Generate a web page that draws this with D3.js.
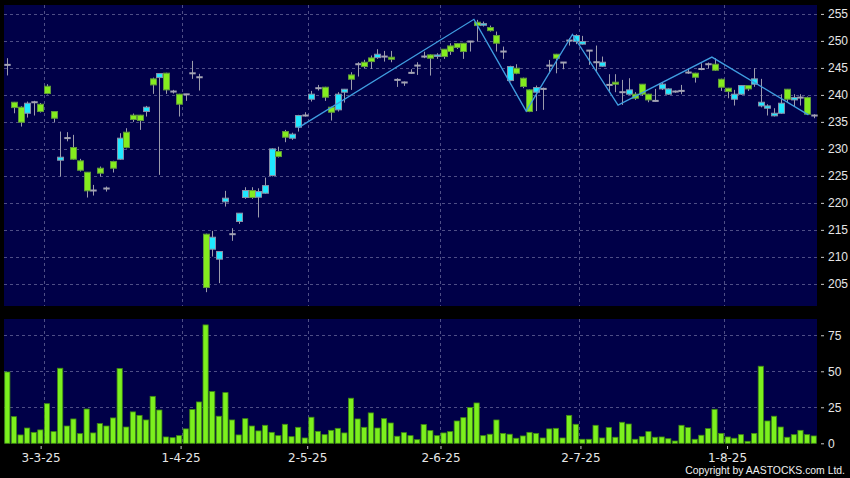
<!DOCTYPE html>
<html><head><meta charset="utf-8">
<script src="https://cdn.jsdelivr.net/npm/d3@7"></script>
<style>html,body{margin:0;padding:0;background:#000;} svg{display:block}</style>
</head><body>
<svg id="c" width="850" height="478"></svg>
<script>
const dates = [
"21-2-25","24-2-25","25-2-25","26-2-25","27-2-25","28-2-25",
"3-3-25","4-3-25","5-3-25","6-3-25","7-3-25","10-3-25","11-3-25","12-3-25","13-3-25","14-3-25","17-3-25","18-3-25","19-3-25","20-3-25","21-3-25","24-3-25","25-3-25","26-3-25","27-3-25","28-3-25","31-3-25",
"1-4-25","2-4-25","3-4-25","7-4-25","8-4-25","9-4-25","10-4-25","11-4-25","14-4-25","15-4-25","16-4-25","17-4-25","22-4-25","23-4-25","24-4-25","25-4-25","28-4-25","29-4-25","30-4-25",
"2-5-25","6-5-25","7-5-25","8-5-25","9-5-25","12-5-25","13-5-25","14-5-25","15-5-25","16-5-25","19-5-25","20-5-25","21-5-25","22-5-25","23-5-25","26-5-25","27-5-25","28-5-25","29-5-25","30-5-25",
"2-6-25","3-6-25","4-6-25","5-6-25","6-6-25","9-6-25","10-6-25","11-6-25","12-6-25","13-6-25","16-6-25","17-6-25","18-6-25","19-6-25","20-6-25","23-6-25","24-6-25","25-6-25","26-6-25","27-6-25","30-6-25",
"2-7-25","3-7-25","4-7-25","7-7-25","8-7-25","9-7-25","10-7-25","11-7-25","14-7-25","15-7-25","16-7-25","17-7-25","18-7-25","21-7-25","22-7-25","23-7-25","24-7-25","25-7-25","28-7-25","29-7-25","30-7-25","31-7-25",
"1-8-25","4-8-25","5-8-25","6-8-25","7-8-25","8-8-25","11-8-25","12-8-25","13-8-25","14-8-25","15-8-25","18-8-25","19-8-25","20-8-25"];

const open = [245.56,238.64,237.72,236.6,238.64,238.27,241.6,236.92,227.9,232.0,
230.25,227.78,225.68,222.29,226.42,222.66,227.66,228.09,233.09,236.24,
236.24,236.92,242.97,243.21,244.02,240.62,240.13,240.1,244.0,243.27,
214.2,211.42,209.57,220.19,214.2,216.55,221.0,222.29,221.05,221.79,
225.06,229.5,233.21,231.98,234.02,236.18,239.2,241.24,241.42,237.72,
237.23,240.5,243.7,245.68,246.05,246.85,246.9,247.1,246.98,242.78,
242.3,244.08,245.43,247.1,247.41,247.22,248.46,249.07,249.5,249.57,
249.88,253.46,252.9,252.47,250.99,248.03,242.66,244.94,243.09,240.93,
240.5,241.11,245.43,247.53,245.99,250.06,249.88,249.4,248.2,246.05,
245.31,241.85,242.35,240.5,240.13,240.13,241.98,240.13,238.89,241.11,
240.13,240.62,240.74,244.14,244.02,244.8,245.68,245.68,242.9,241.24,
239.2,240.13,241.73,241.98,237.96,237.53,236.12,236.6,241.05,239.07,
239.5,239.5,236.18];
const high = [246.8,238.7,237.9,238.77,238.9,238.5,241.98,237.0,233.21,233.1,
232.6,228.15,225.7,223.33,226.73,223.03,227.8,232.9,233.83,236.55,
236.3,237.96,243.2,244.0,244.1,240.93,240.2,240.2,246.3,243.9,
214.3,214.82,211.0,222.23,215.31,218.1,222.9,222.9,222.7,224.69,
230.1,230.4,233.52,233.0,236.3,236.79,240.74,241.85,241.5,237.8,
240.5,241.1,244.2,246.05,246.5,247.3,248.46,248.15,248.15,243.09,
242.47,244.75,246.05,248.0,247.5,247.72,248.5,249.57,249.6,249.6,
250.0,253.9,253.58,252.84,251.73,248.95,245.4,245.68,243.2,241.0,
241.73,241.36,246.48,247.6,246.05,250.5,251.24,250.93,248.2,249.14,
247.1,243.83,243.83,242.78,243.09,240.5,242.0,240.2,241.11,242.35,
241.2,240.8,241.85,244.94,244.1,245.86,246.0,246.79,243.0,241.3,
240.93,241.8,241.8,244.94,242.97,238.27,237.53,240.13,241.1,240.13,
240.13,239.7,236.42];
const low = [243.6,236.6,234.14,235.8,236.18,236.73,240.1,234.94,224.88,231.4,
228.0,225.8,220.99,221.36,224.88,222.1,225.62,228.0,230.1,235.0,
233.52,235.99,240.19,225.19,240.19,240.25,235.99,238.9,242.97,240.8,
203.46,210.06,205.13,219.32,212.97,216.11,220.74,220.74,217.3,221.7,
224.9,228.4,231.24,231.67,233.21,235.99,238.77,240.8,238.89,235.25,
236.92,238.58,240.93,243.4,244.94,244.8,246.67,246.17,246.05,241.48,
241.67,243.9,243.7,246.8,243.58,246.67,246.67,247.41,248.5,246.67,
248.03,249.88,252.66,251.73,248.03,246.67,242.5,243.83,241.24,236.8,
237.0,237.23,244.0,244.0,244.75,249.14,249.4,249.3,245.56,244.32,
245.2,240.5,240.5,238.15,240.0,239.07,239.8,238.64,238.77,240.9,
240.0,240.4,240.13,243.9,242.28,244.57,244.9,244.45,240.74,239.38,
238.03,240.0,240.74,241.5,237.7,236.18,236.0,236.5,238.64,237.84,
238.03,236.3,235.68];
const close = [245.56,237.65,234.94,238.46,238.64,236.92,240.25,235.68,228.46,232.0,
228.09,226.05,222.23,222.29,225.5,222.66,226.42,231.98,230.25,235.44,
235.25,237.72,241.85,243.95,240.93,240.62,238.27,240.1,244.0,243.27,
204.32,213.64,210.99,220.87,214.2,218.09,222.29,221.0,222.1,223.2,
230.0,228.58,232.16,232.72,236.18,236.18,240.13,241.24,239.57,236.79,
240.13,241.05,242.9,245.68,245.25,246.17,247.53,247.1,246.6,242.78,
242.3,244.08,245.43,247.1,246.79,247.4,247.1,248.03,248.77,248.03,
249.88,252.84,253.2,251.9,249.57,248.03,245.25,244.0,241.55,236.92,
241.36,241.11,245.43,246.79,245.99,250.06,250.99,249.88,248.2,246.05,
246.05,241.85,241.98,240.5,240.93,239.38,240.13,239.07,238.89,241.98,
241.11,240.62,240.74,244.14,243.27,244.8,245.68,244.57,241.42,240.62,
240.13,241.73,241.11,242.97,238.64,237.96,236.6,238.46,239.2,239.5,
239.5,236.42,236.18];
const volume = [49.5,18.5,5.8,10.6,7.6,9.3,27.5,8.1,52.1,12.0,
16.9,6.7,23.8,7.2,13.7,12.0,17.6,51.9,11.3,21.8,
19.4,16.2,32.6,23.1,4.4,3.9,5.3,10.0,23.4,28.7,
82.2,35.9,18.8,35.2,16.2,5.8,17.1,12.0,8.6,12.5,
7.6,5.3,13.2,4.6,11.1,3.7,18.1,8.3,6.0,9.0,
10.4,7.2,31.3,16.9,11.1,21.1,10.6,17.1,14.1,4.9,
7.4,5.3,2.5,13.0,8.8,5.3,7.2,8.1,15.5,17.8,
24.8,28.0,5.3,6.3,16.2,6.9,6.3,3.5,5.1,7.6,
6.9,3.7,10.0,10.4,3.7,19.4,13.2,2.8,2.8,12.5,
3.7,10.9,4.2,14.6,13.4,2.8,4.6,8.1,4.2,4.4,
3.2,1.6,12.5,10.9,2.8,5.6,10.2,23.6,6.9,4.4,
3.5,6.0,1.4,6.9,53.5,15.5,18.8,11.3,4.2,6.0,
9.0,6.0,5.1];
// swing line vertices (day index as read, price)
const zigzagIdx = [44, 70.6, 78.5, 85.5, 92.4, 106.6, 121.2];
const zigzagVal = [233.9, 254.0, 237.0, 251.2, 238.1, 247.0, 236.3];
const priceTicks = [205,210,215,220,225,230,235,240,245,250,255];
const volumeTicks = [0,25,50,75];
const monthLabels = ["3-3-25","1-4-25","2-5-25","2-6-25","2-7-25","1-8-25"];

const svg = d3.select("#c");
const n = dates.length;
const L = 4, R = 817;
const P = {top:5, bottom:306};
const V = {top:319, bottom:443.3};

const x = d3.scaleBand().domain(d3.range(n)).range([L, R]);
const bw = x.bandwidth();
const xc = i => x(i) + bw/2;
const xLin = d3.scaleLinear().domain([0, n-1]).range([xc(0), xc(n-1)]);
const xLab = d3.scaleLinear().domain([0.5, n-0.5]).range([L, R]);
const y = d3.scaleLinear().domain([200.9, 256.65]).range([P.bottom, P.top]);
const yv = d3.scaleLinear().domain([0, 86.3]).range([V.bottom, V.top]);

const BG = "#000048", GRID = "#4e4e86";
svg.append("rect").attr("width",850).attr("height",478).attr("fill","#000");
svg.append("rect").attr("x",L).attr("y",P.top).attr("width",R-L).attr("height",P.bottom-P.top).attr("fill",BG);
svg.append("rect").attr("x",L).attr("y",V.top).attr("width",R-L).attr("height",V.bottom-V.top).attr("fill",BG);

const monthIdx = monthLabels.map(s => dates.indexOf(s));
const snap = v => Math.round(v) + 0.5;

// grids
const g = svg.append("g").attr("stroke",GRID).attr("stroke-dasharray","3,3").attr("stroke-width",1);
priceTicks.forEach(t => g.append("line").attr("x1",L).attr("x2",R).attr("y1",snap(y(t))).attr("y2",snap(y(t))));
volumeTicks.filter(t=>t>0).forEach(t => g.append("line").attr("x1",L).attr("x2",R).attr("y1",snap(yv(t))).attr("y2",snap(yv(t))));
monthIdx.forEach(i => {
  g.append("line").attr("x1",snap(x(i))).attr("x2",snap(x(i))).attr("y1",P.top).attr("y2",P.bottom);
  g.append("line").attr("x1",snap(x(i))).attr("x2",snap(x(i))).attr("y1",V.top).attr("y2",V.bottom);
});

// volume bars
svg.append("g").selectAll("rect").data(volume).join("rect")
  .attr("x",(d,i)=>xc(i)-2.6).attr("width",5.2)
  .attr("y",d=>yv(d)).attr("height",d=>yv(0)-yv(d))
  .attr("fill","#7cf01e").attr("stroke","#3f8a12").attr("stroke-width",0.8);

// candles
const cg = svg.append("g");
d3.range(n).forEach(i => {
  const cx = Math.round(xc(i)) + 0.5;
  cg.append("line").attr("x1",cx).attr("x2",cx).attr("y1",y(high[i])).attr("y2",y(low[i]))
    .attr("stroke","#9c9cac").attr("stroke-width",1);
  if (open[i] === close[i]) {
    cg.append("line").attr("x1",cx-3.2).attr("x2",cx+3.2).attr("y1",y(open[i])).attr("y2",y(open[i]))
      .attr("stroke","#a4a4b4").attr("stroke-width",2);
  } else {
    const up = close[i] > open[i];
    const top = y(Math.max(open[i],close[i])), bot = y(Math.min(open[i],close[i]));
    cg.append("rect").attr("x",cx-3).attr("width",6).attr("y",top).attr("height",Math.max(1.5,bot-top))
      .attr("fill", up ? "#1fe8ff" : "#84ec1e")
      .attr("stroke", up ? "#8890a8" : "#5f9a3a").attr("stroke-width",1);
  }
});

// swing line
svg.append("path")
  .datum(zigzagIdx.map((d,i)=>[d, zigzagVal[i]]))
  .attr("fill","none").attr("stroke","#3f9de0").attr("stroke-width",1.3)
  .attr("d", d3.line().x(d=>xLin(d[0])).y(d=>y(d[1])));

// axes
function styleAxis(sel, family){
  sel.select(".domain").remove();
  sel.selectAll(".tick line").attr("stroke","#c8c8c8");
  sel.selectAll(".tick text").attr("fill","#e6e6e6").style("font-family",family).style("font-size","12px");
}
svg.append("g").attr("transform",`translate(821,0)`)
  .call(d3.axisRight(y).tickValues(priceTicks).tickSize(3).tickPadding(4))
  .call(s=>styleAxis(s,"Liberation Sans, Arial, sans-serif"));
svg.append("g").attr("transform",`translate(821,0)`)
  .call(d3.axisRight(yv).tickValues(volumeTicks).tickSize(3).tickPadding(4))
  .call(s=>styleAxis(s,"Liberation Sans, Arial, sans-serif"));
svg.append("g").attr("transform",`translate(0,446)`)
  .call(d3.axisBottom(xLab).tickValues(monthIdx).tickFormat(i=>dates[i]).tickSize(3).tickPadding(4))
  .call(s=>styleAxis(s,"DejaVu Sans, sans-serif"));

svg.append("text").attr("x",845).attr("y",473.5).attr("text-anchor","end")
  .attr("fill","#f0f0f0").style("font-family","Liberation Sans, Arial, sans-serif").style("font-size","10.4px")
  .text("Copyright by AASTOCKS.com Ltd.");
</script>
</body></html>
